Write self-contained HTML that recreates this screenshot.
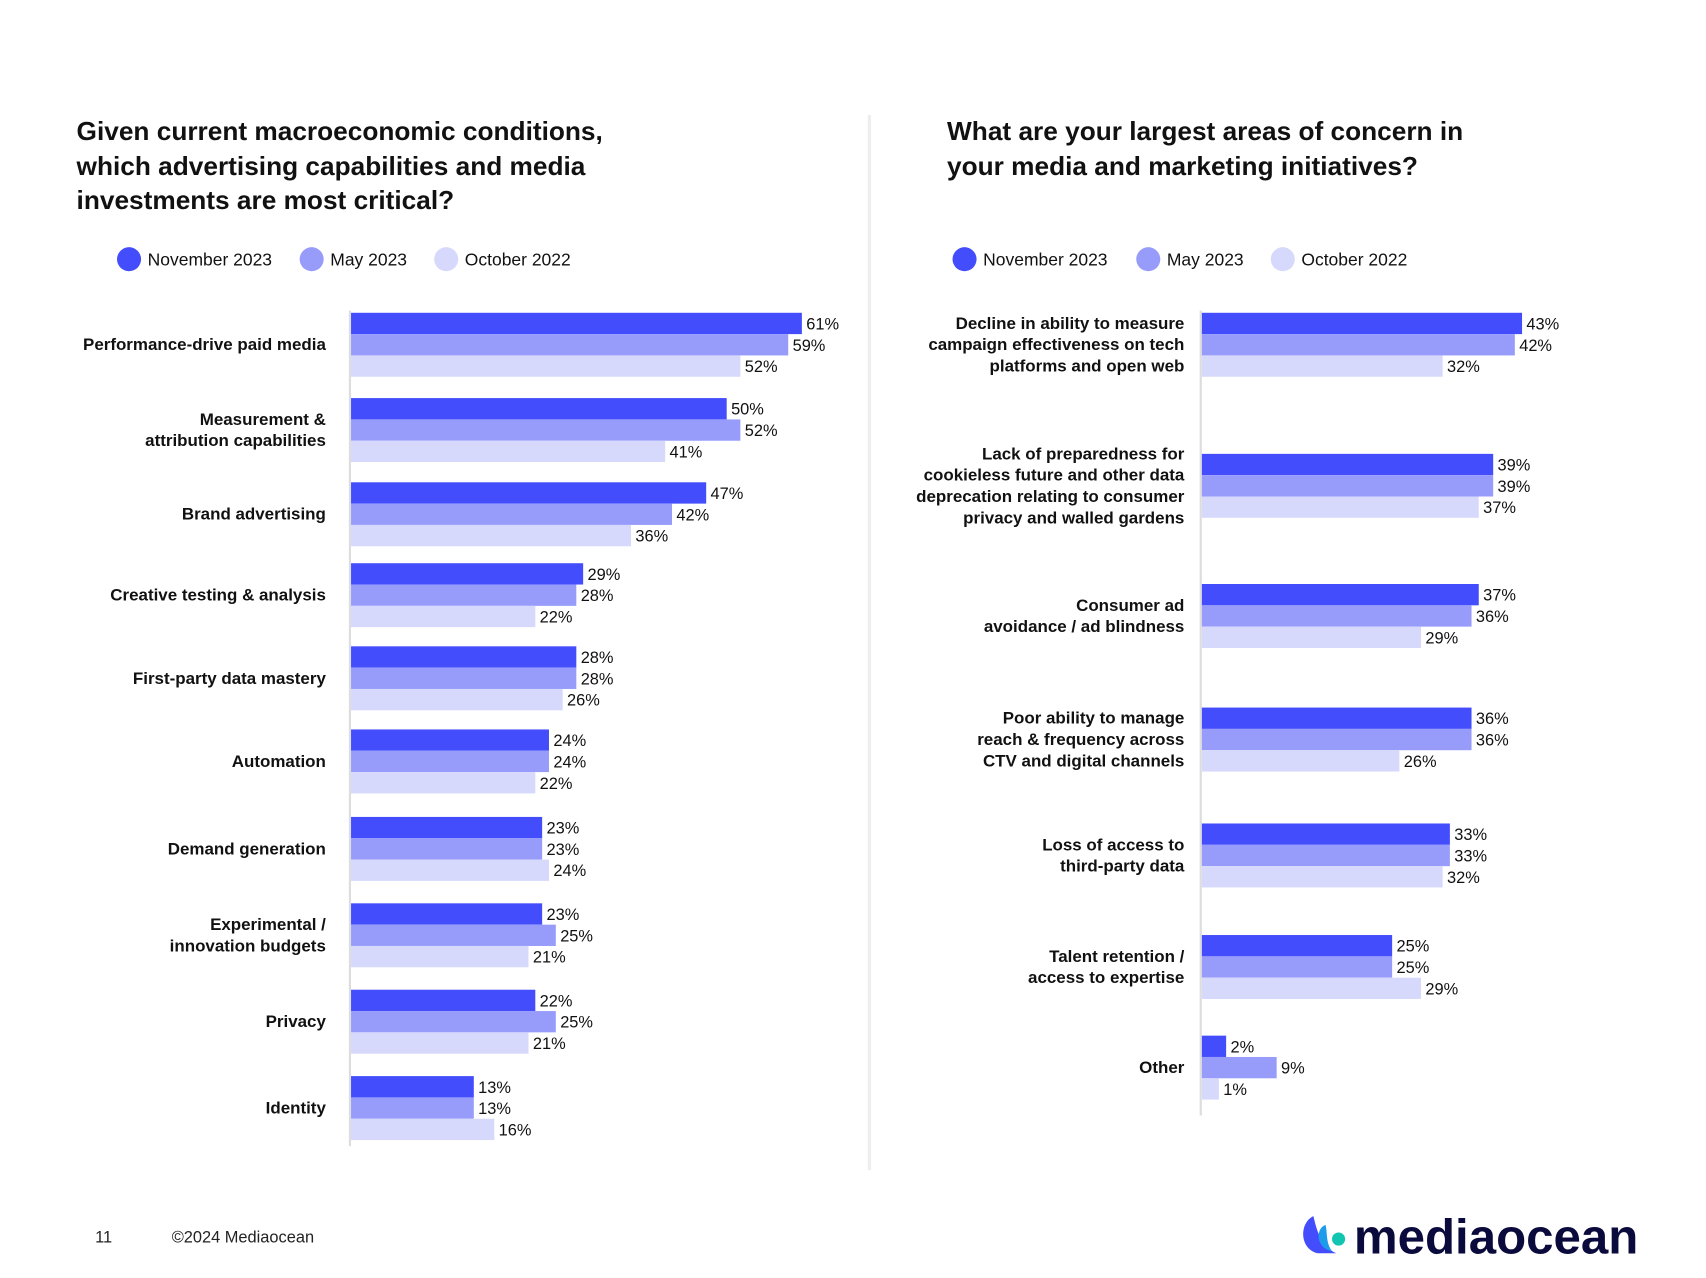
<!DOCTYPE html>
<html><head><meta charset="utf-8"><style>
html,body{margin:0;padding:0;background:#fff;}
svg{display:block;font-family:"Liberation Sans",sans-serif;}
</style></head><body>
<svg id="s" width="1706" height="1278" viewBox="0 0 1560 1168.6">
<line x1="795" y1="105" x2="795" y2="1070" stroke="#eee" stroke-width="3"/>
<g font-size="24" font-weight="bold" fill="#111">
<text x="70" y="128">Given current macroeconomic conditions,</text>
<text x="70" y="160">which advertising capabilities and media</text>
<text x="70" y="191">investments are most critical?</text>
</g>
<g font-size="24" font-weight="bold" fill="#111">
<text x="866" y="128">What are your largest areas of concern in</text>
<text x="866" y="160">your media and marketing initiatives?</text>
</g>
<g id="charts"></g>
<g font-size="15" fill="#222">
<text x="87" y="1136">11</text>
<text x="157" y="1136">©2024 Mediaocean</text>
</g>
<g>
<path d="M1201 1112 C1188 1118 1188 1142 1205 1146 L1222 1146 C1208 1140 1204 1125 1201 1112Z" fill="#434DFB"/>
<path d="M1212 1120 C1202 1124 1204 1142 1218 1144 C1212 1136 1214 1126 1212 1120Z" fill="#1E9BEB"/>
<circle cx="1224" cy="1133" r="6" fill="#11C5B0"/>
<text x="1238" y="1146" font-size="45" font-weight="bold" fill="#0A0A3C">mediaocean</text>
</g>
</svg>
<script>
const series = ['November 2023','May 2023','October 2022'];
const colors = ['#434DFB','#979CFB','#D7D9FC'];
const leftCats = [['Performance-drive paid media'],['Measurement &','attribution capabilities'],['Brand advertising'],['Creative testing & analysis'],['First-party data mastery'],['Automation'],['Demand generation'],['Experimental /','innovation budgets'],['Privacy'],['Identity']];
const leftNov = [61,50,47,29,28,24,23,23,22,13];
const leftMay = [59,52,42,28,28,24,23,25,25,13];
const leftOct = [52,41,36,22,26,22,24,21,21,16];
const rightCats = [['Decline in ability to measure','campaign effectiveness on tech','platforms and open web'],['Lack of preparedness for','cookieless future and other data','deprecation relating to consumer','privacy and walled gardens'],['Consumer ad','avoidance / ad blindness'],['Poor ability to manage','reach & frequency across','CTV and digital channels'],['Loss of access to','third-party data'],['Talent retention /','access to expertise'],['Other']];
const rightNov = [43,39,37,36,33,25,2];
const rightMay = [42,39,36,36,33,25,9];
const rightOct = [32,37,29,26,32,29,1];

const NS='http://www.w3.org/2000/svg';
const root=document.getElementById('charts');
function mk(tag,attrs,parent){const e=document.createElementNS(NS,tag);for(const k in attrs)e.setAttribute(k,attrs[k]);parent.appendChild(e);return e;}

function chart(cfg){
  const g=mk('g',{},root);
  
  
  // legend
  series.forEach((s,i)=>{
    const lg=mk('g',{},g);
    
    
    mk('circle',{cx:cfg.legX[i],cy:237,r:11,fill:colors[i]},lg);
    const t=mk('text',{x:cfg.legX[i]+17,y:243,'font-size':16,fill:'#111'},lg);t.textContent=s;
  });
  const ax=mk('line',{x1:cfg.x0-1,x2:cfg.x0-1,y1:cfg.axTop,y2:cfg.axBot,stroke:'#ddd','stroke-width':2},g);
  
  
  const sx=v=>cfg.a+cfg.b*v;
  const data=[cfg.nov,cfg.may,cfg.oct];
  cfg.cats.forEach((lines,ci)=>{
    const top=cfg.tops[ci], bh=19.5;
    const lab=mk('text',{'text-anchor':'end','font-size':15.5,'font-weight':'bold',fill:'#111'},g);
    
    
    const mid=top+bh*1.5, lh=19.5;
    lines.forEach((l,li)=>{const ts=mk('tspan',{x:cfg.labX,y:mid-(lines.length-1)*lh/2+li*lh+5},lab);ts.textContent=l;});
    data.forEach((arr,si)=>{
      const v=arr[ci], y=top+si*bh;
      const r=mk('rect',{x:cfg.x0,y:y,width:sx(v)-cfg.x0,height:bh,fill:colors[si]},g);
      
      
      const t=mk('text',{x:sx(v)+4,y:y+bh/2+5.5,'font-size':15,fill:'#111'},g);
      
      
      t.textContent=v+'%';
    });
  });
}
chart({name:'left-chart',legX:[118,285,408],x0:321,a:352,b:6.25,axTop:284,axBot:1048,labX:298,
  tops:[286,364,441,515,591,667,747,826,905,984],cats:leftCats,nov:leftNov,may:leftMay,oct:leftOct});
chart({name:'right-chart',legX:[882,1050,1173],x0:1099,a:1108,b:6.6,axTop:284,axBot:1020,labX:1083,
  tops:[286,415,534,647,753,855,947],cats:rightCats,nov:rightNov,may:rightMay,oct:rightOct});
</script>
</body></html>
